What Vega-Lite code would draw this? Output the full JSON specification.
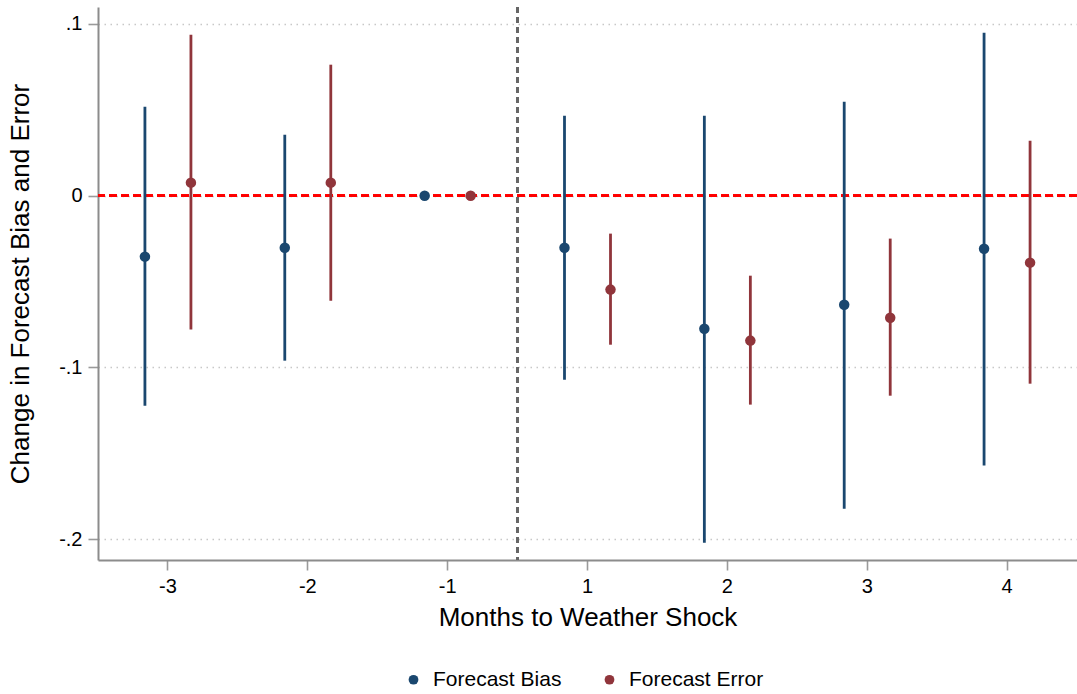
{
  "$schema": "https://vega.github.io/schema/vega-lite/v6.json",
  "width": 979,
  "height": 553,
  "autosize": {"type": "none"},
  "padding": {"left": 98, "top": 7, "right": 0, "bottom": 134},
  "background": "white",
  "config": {
    "view": {"stroke": null},
    "font": "Liberation Sans",
    "axis": {
      "domainColor": "#8c8c8c",
      "domainWidth": 2,
      "tickColor": "#9a9a9a",
      "tickWidth": 1.6,
      "tickSize": 10,
      "labelColor": "black",
      "titleColor": "black",
      "titleFontWeight": "normal"
    }
  },
  "data": {
    "values": [
      {"month": "-3", "series": "Forecast Bias", "est": -0.0355, "lo": -0.1223, "hi": 0.0518},
      {"month": "-3", "series": "Forecast Error", "est": 0.0076, "lo": -0.078, "hi": 0.0938},
      {"month": "-2", "series": "Forecast Bias", "est": -0.0303, "lo": -0.0961, "hi": 0.0355},
      {"month": "-2", "series": "Forecast Error", "est": 0.0076, "lo": -0.0612, "hi": 0.0763},
      {"month": "-1", "series": "Forecast Bias", "est": 0, "lo": null, "hi": null},
      {"month": "-1", "series": "Forecast Error", "est": 0, "lo": null, "hi": null},
      {"month": "1", "series": "Forecast Bias", "est": -0.0303, "lo": -0.1072, "hi": 0.0466},
      {"month": "1", "series": "Forecast Error", "est": -0.0547, "lo": -0.0868, "hi": -0.0221},
      {"month": "2", "series": "Forecast Bias", "est": -0.0775, "lo": -0.2021, "hi": 0.0466},
      {"month": "2", "series": "Forecast Error", "est": -0.0844, "lo": -0.1217, "hi": -0.0466},
      {"month": "3", "series": "Forecast Bias", "est": -0.0635, "lo": -0.1823, "hi": 0.0547},
      {"month": "3", "series": "Forecast Error", "est": -0.0711, "lo": -0.1165, "hi": -0.025},
      {"month": "4", "series": "Forecast Bias", "est": -0.0309, "lo": -0.1572, "hi": 0.0949},
      {"month": "4", "series": "Forecast Error", "est": -0.039, "lo": -0.1095, "hi": 0.032}
    ]
  },
  "encoding": {
    "x": {
      "field": "month",
      "type": "ordinal",
      "scale": {"type": "band", "domain": ["-3", "-2", "-1", "1", "2", "3", "4"], "paddingInner": 0, "paddingOuter": 0},
      "axis": {
        "title": "Months to Weather Shock",
        "labelAngle": 0,
        "grid": false,
        "labelPadding": 6,
        "titlePadding": 8,
        "labelFontSize": 20,
        "titleFontSize": 26,
        "labelFont": "Liberation Sans",
        "titleFont": "Liberation Sans"
      }
    }
  },
  "layer": [
    {
      "mark": {"type": "rule", "color": "#ff0000", "strokeWidth": 2, "strokeDash": [8, 4]},
      "encoding": {
        "x": null,
        "y": {
          "datum": 0,
          "type": "quantitative",
          "scale": {"domain": [-0.2122, 0.1099], "nice": false, "zero": false},
          "axis": {
            "title": "Change in Forecast Bias and Error",
            "values": [-0.2, -0.1, 0, 0.1],
            "labelExpr": "datum.value > 0.05 ? '.1' : datum.value > -0.05 ? '0' : datum.value > -0.15 ? '-.1' : '-.2'",
            "grid": true,
            "gridColor": "#c8c8c8",
            "gridDash": [1.5, 4.5],
            "gridWidth": 1.5,
            "labelPadding": 6,
            "titlePadding": 25,
            "labelFontSize": 20,
            "titleFontSize": 26,
            "labelFont": "Liberation Sans",
            "titleFont": "Liberation Sans"
          }
        }
      }
    },
    {
      "mark": {"type": "rule", "color": "#666666", "strokeWidth": 2, "strokeDash": [6, 4]},
      "encoding": {
        "x": {"datum": "1", "type": "ordinal", "bandPosition": 0}
      }
    },
    {
      "transform": [{"filter": "datum.lo != null"}],
      "mark": {"type": "rule", "strokeWidth": 2.8},
      "encoding": {
        "xOffset": {"field": "series", "type": "nominal", "scale": {"paddingInner": 0, "paddingOuter": 0.52}},
        "y": {"field": "lo", "type": "quantitative"},
        "y2": {"field": "hi"},
        "color": {
          "field": "series",
          "type": "nominal",
          "scale": {"domain": ["Forecast Bias", "Forecast Error"], "range": ["#1a476f", "#90353b"]}
        }
      }
    },
    {
      "mark": {"type": "circle", "size": 110, "opacity": 1},
      "encoding": {
        "xOffset": {"field": "series", "type": "nominal", "scale": {"paddingInner": 0, "paddingOuter": 0.52}},
        "y": {"field": "est", "type": "quantitative"},
        "color": {
          "field": "series",
          "type": "nominal",
          "scale": {"domain": ["Forecast Bias", "Forecast Error"], "range": ["#1a476f", "#90353b"]},
          "legend": {
            "title": null,
            "orient": "none",
            "legendX": 305,
            "legendY": 662,
            "direction": "horizontal",
            "columns": 2,
            "columnPadding": 37,
            "symbolType": "circle",
            "symbolSize": 95,
            "symbolOpacity": 1,
            "symbolStrokeWidth": 0,
            "labelFontSize": 21,
            "labelFont": "Liberation Sans",
            "labelColor": "black",
            "labelOffset": 9
          }
        }
      }
    }
  ]
}
